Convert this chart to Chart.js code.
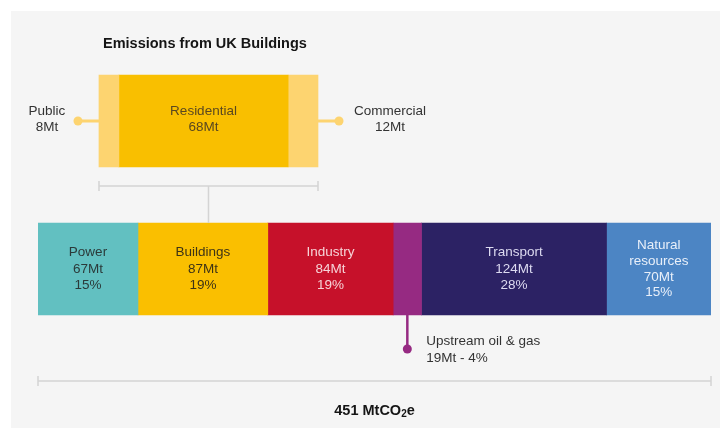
<!DOCTYPE html>
<html>
<head>
<meta charset="utf-8">
<script src="https://cdn.jsdelivr.net/npm/chart.js@4"></script>
<style>
  html, body { margin: 0; padding: 0; background: #fff; }
  #wrap { width: 720px; height: 428px; }
</style>
</head>
<body>
<div id="wrap"><canvas id="chart" width="720" height="428"></canvas></div>
<script>
// data
const sectorNames = ['Power', 'Buildings', 'Industry', 'Upstream oil & gas', 'Transport', 'Natural resources'];
const sectorValues = [67, 87, 84, 19, 124, 70];
const sectorShares = [15, 19, 19, 4, 28, 15];
const buildingNames = ['Public', 'Residential', 'Commercial'];
const buildingValues = [8, 68, 12];
const totalValue = 451;
const rowLabels = ['Emissions from UK Buildings', 'UK total'];

const sectorColors = ['#62c0c1', '#fabf00', '#c6112a', '#962a82', '#2c2264', '#4c85c4'];
const sectorTextColors = ['#2b3a3a', '#3d3316', '#f6d3d7', null, '#dcdaf0', '#e8eff9'];
const buildingColors = ['#fdd470', '#f9bf00', '#fdd470'];
const FONT = "'Liberation Sans', Arial, sans-serif";

const datasets = [];
buildingNames.forEach((name, i) => {
  datasets.push({
    label: name,
    data: [buildingValues[i], null],
    backgroundColor: buildingColors[i],
    xAxisID: 'x2',
    stack: 'buildings'
  });
});
sectorNames.forEach((name, i) => {
  datasets.push({
    label: name,
    data: [null, sectorValues[i]],
    backgroundColor: sectorColors[i],
    xAxisID: 'x',
    stack: 'total'
  });
});

function barBox(chart, dsIndex, row) {
  const el = chart.getDatasetMeta(dsIndex).data[row];
  const p = el.getProps(['x', 'y', 'base', 'height'], true);
  return {
    left: Math.min(p.x, p.base), right: Math.max(p.x, p.base),
    top: p.y - p.height / 2, bottom: p.y + p.height / 2,
    cx: (p.x + p.base) / 2, cy: p.y
  };
}

function textLines(ctx, lines, x, cy, lh) {
  const start = cy - (lines.length - 1) * lh / 2;
  lines.forEach((t, i) => ctx.fillText(t, x, start + i * lh));
}

function bracket(ctx, x1, x2, y) {
  ctx.beginPath();
  ctx.moveTo(x1, y); ctx.lineTo(x2, y);
  ctx.moveTo(x1, y - 5); ctx.lineTo(x1, y + 5);
  ctx.moveTo(x2, y - 5); ctx.lineTo(x2, y + 5);
  ctx.stroke();
}

function dot(ctx, x, y, r, color) {
  ctx.fillStyle = color;
  ctx.beginPath();
  ctx.arc(x, y, r, 0, Math.PI * 2);
  ctx.fill();
}

const sketch = {
  id: 'sketch',
  beforeDraw(chart) {
    const ctx = chart.ctx;
    ctx.save();
    ctx.fillStyle = '#f5f5f5';
    ctx.fillRect(11, 11, chart.width - 11, chart.height - 11);
    ctx.restore();
  },
  afterDatasetsDraw(chart) {
    const ctx = chart.ctx;
    const nb = buildingNames.length;
    ctx.save();
    ctx.textBaseline = 'middle';
    ctx.textAlign = 'center';

    // title
    ctx.font = 'bold 14.5px ' + FONT;
    ctx.fillStyle = '#151515';
    ctx.textAlign = 'left';
    ctx.fillText(rowLabels[0], 103, 44);
    ctx.textAlign = 'center';

    // sector labels inside bars
    ctx.font = '13.5px ' + FONT;
    sectorNames.forEach((name, i) => {
      if (!sectorTextColors[i]) return;
      const b = barBox(chart, nb + i, 1);
      const words = name === 'Natural resources' ? ['Natural', 'resources'] : [name];
      ctx.fillStyle = sectorTextColors[i];
      textLines(ctx, words.concat([sectorValues[i] + 'Mt', sectorShares[i] + '%']), b.cx, b.cy, words.length > 1 ? 15.7 : 16.5);
    });

    // residential label
    const res = barBox(chart, 1, 0);
    ctx.fillStyle = '#5a4820';
    textLines(ctx, [buildingNames[1], buildingValues[1] + 'Mt'], res.cx, res.cy - 1.5, 16.5);

    // public / commercial callouts
    const pub = barBox(chart, 0, 0);
    const com = barBox(chart, 2, 0);
    ctx.strokeStyle = buildingColors[0];
    ctx.lineWidth = 3;
    ctx.beginPath();
    ctx.moveTo(pub.left - 21, pub.cy); ctx.lineTo(pub.left, pub.cy);
    ctx.moveTo(com.right, com.cy); ctx.lineTo(com.right + 21, com.cy);
    ctx.stroke();
    dot(ctx, pub.left - 21, pub.cy, 4.5, buildingColors[0]);
    dot(ctx, com.right + 21, com.cy, 4.5, buildingColors[2]);
    ctx.fillStyle = '#333';
    textLines(ctx, [buildingNames[0], buildingValues[0] + 'Mt'], pub.left - 52, pub.cy - 1.5, 16.5);
    textLines(ctx, [buildingNames[2], buildingValues[2] + 'Mt'], com.right + 72, com.cy - 1.5, 16.5);

    // upstream callout
    const up = barBox(chart, nb + 3, 1);
    ctx.strokeStyle = sectorColors[3];
    ctx.lineWidth = 2.5;
    ctx.beginPath();
    ctx.moveTo(up.cx, up.bottom); ctx.lineTo(up.cx, up.bottom + 34);
    ctx.stroke();
    dot(ctx, up.cx, up.bottom + 34, 4.5, sectorColors[3]);
    ctx.fillStyle = '#333';
    ctx.textAlign = 'left';
    textLines(ctx, [sectorNames[3], sectorValues[3] + 'Mt - ' + sectorShares[3] + '%'], up.cx + 19, up.bottom + 34.5, 17);

    // brackets
    ctx.strokeStyle = '#d4d4d4';
    ctx.lineWidth = 1.5;
    const by = pub.bottom + 19;
    bracket(ctx, pub.left, com.right, by);
    const mid = (pub.left + com.right) / 2;
    const bld = barBox(chart, nb + 1, 1);
    ctx.beginPath();
    ctx.moveTo(mid, by); ctx.lineTo(mid, bld.top);
    ctx.stroke();

    const xs = chart.scales.x;
    const x0 = xs.getPixelForValue(0), x1 = xs.getPixelForValue(totalValue);
    const ty = bld.bottom + 66;
    bracket(ctx, x0, x1, ty);

    // total
    const big = 'bold 14.5px ' + FONT, small = 'bold 10px ' + FONT;
    const parts = [[totalValue + ' MtCO', big, 0], ['2', small, 3], ['e', big, 0]];
    let w = 0;
    parts.forEach(p => { ctx.font = p[1]; w += ctx.measureText(p[0]).width; });
    let tx = (x0 + x1) / 2 - w / 2;
    ctx.fillStyle = '#151515';
    parts.forEach(p => {
      ctx.font = p[1];
      ctx.fillText(p[0], tx, ty + 30 + p[2]);
      tx += ctx.measureText(p[0]).width;
    });
    ctx.restore();
  }
};

new Chart(document.getElementById('chart'), {
  type: 'bar',
  data: { labels: rowLabels, datasets: datasets },
  options: {
    indexAxis: 'y',
    responsive: false,
    animation: false,
    devicePixelRatio: 1,
    layout: { padding: { left: 38, right: 9, top: 47, bottom: 85 } },
    datasets: { bar: { grouped: false, barThickness: 92, borderWidth: 0 } },
    scales: {
      x: { display: false, stacked: true, min: 0, max: totalValue },
      x2: { display: false, stacked: true, min: -24.5, max: 245.9 },
      y: { display: false, stacked: true }
    },
    plugins: { legend: { display: false }, tooltip: { enabled: false } }
  },
  plugins: [sketch]
});
</script>
</body>
</html>
